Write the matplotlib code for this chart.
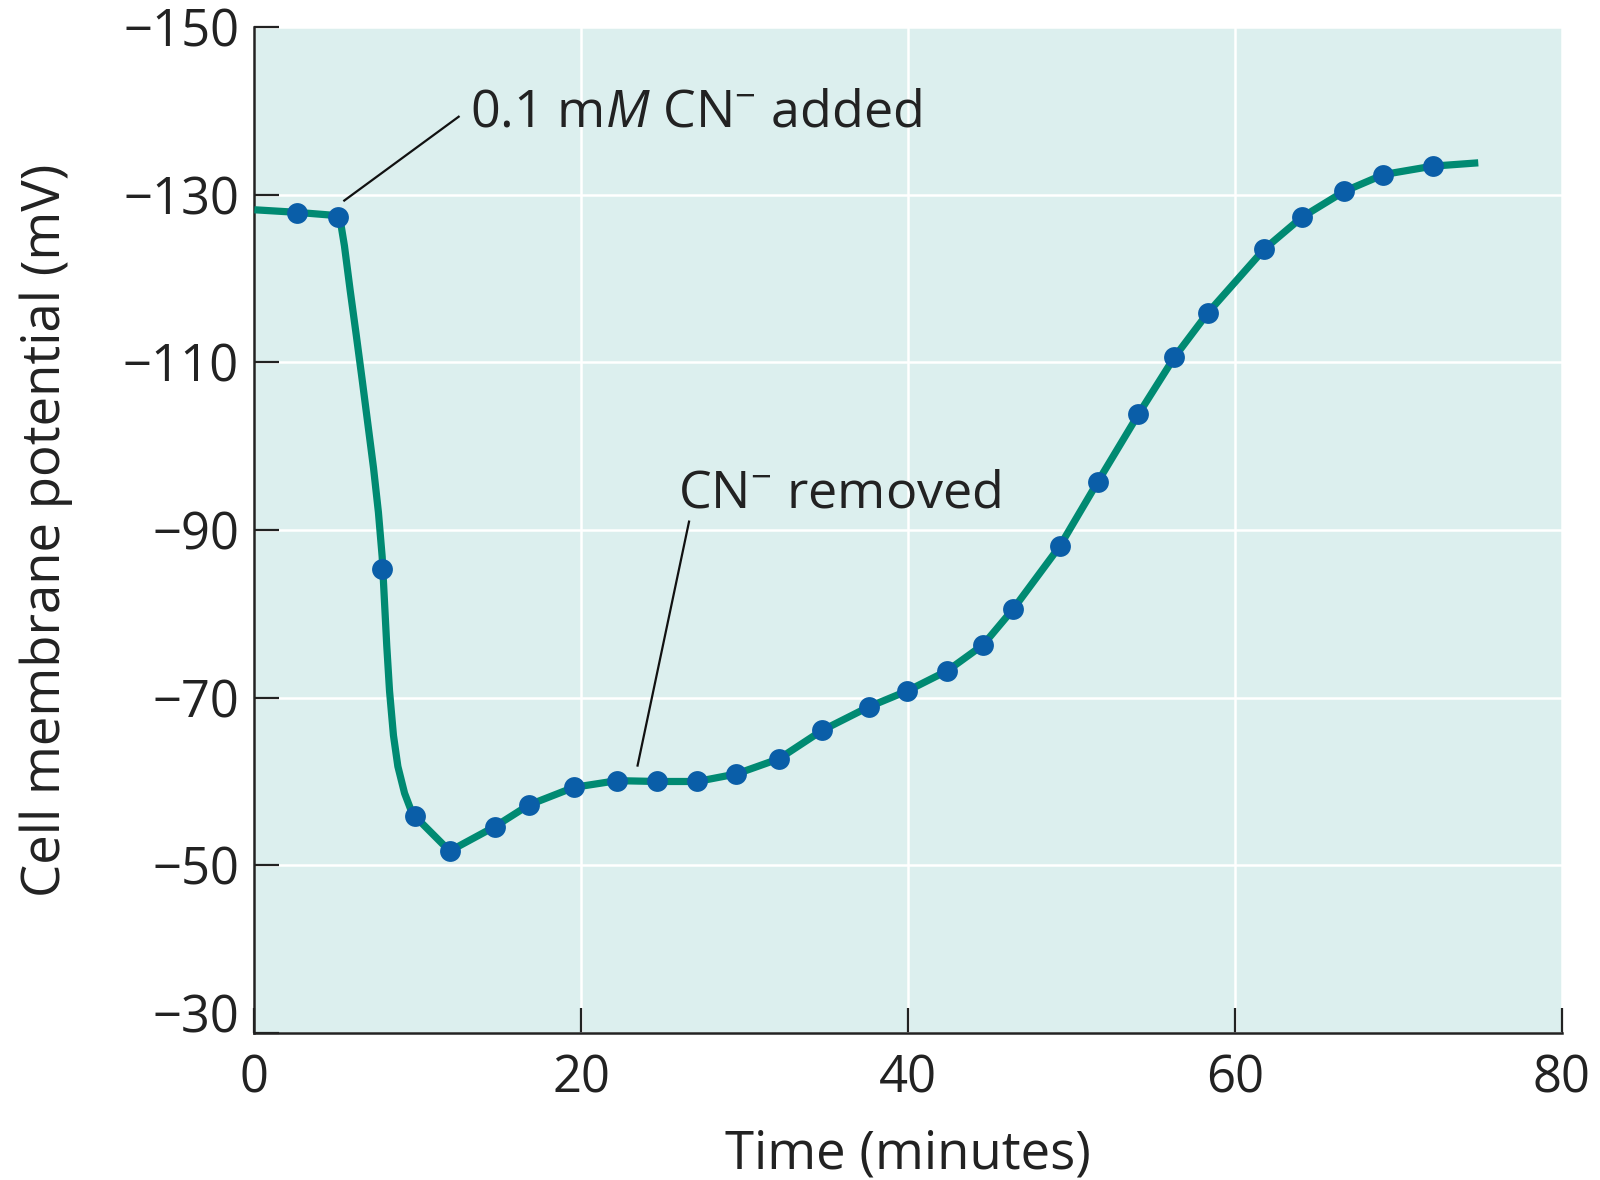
import matplotlib

matplotlib.use('Agg')
import matplotlib.pyplot as plt

# measured points (markers)
time_pts = [2.6, 5.1, 7.8, 9.8, 11.95, 14.7, 16.8, 19.55, 22.2, 24.65, 27.1, 29.5,
            32.1, 34.75, 37.6, 39.95, 42.4, 44.6, 46.45, 49.3, 51.6, 54.1, 56.3,
            58.35, 61.8, 64.1, 66.7, 69.1, 72.1]
potential_pts = [-127.8, -127.3, -85.3, -55.9, -51.7, -54.6, -57.2, -59.3, -60.1,
                 -60.0, -60.0, -60.9, -62.7, -66.1, -68.9, -70.8, -73.2, -76.3,
                 -80.6, -88.1, -95.7, -103.8, -110.6, -115.9, -123.5, -127.3,
                 -130.4, -132.4, -133.4]

# traced curve through the points
trace_time = [0, 2.55, 5.1, 5.3, 5.51, 5.86, 6.23, 6.59, 6.94, 7.29, 7.59, 7.82, 7.96,
              8.10, 8.27, 8.51, 8.78, 9.19, 9.6, 9.8, 11.95,
              14.7, 16.8, 19.55, 22.2, 24.65, 27.1, 29.5, 32.1, 34.75, 37.6, 39.95,
              42.4, 44.6, 46.45, 49.3, 51.6, 54.1, 56.3, 58.35, 61.8, 64.1, 66.7,
              69.1, 72.1, 74.9]
trace_potential = [-128.2, -127.9, -127.5, -126.4, -123.9, -118.6, -113.3, -108.0,
                   -102.7, -97.4, -92.1, -86.8, -81.5, -76.2, -70.8, -65.5, -61.8,
                   -58.6, -56.5, -55.9, -51.7, -54.6, -57.2, -59.3, -60.1, -60.0,
                   -60.0, -60.9, -62.7, -66.1, -68.9, -70.8, -73.2, -76.3, -80.6,
                   -88.1, -95.7, -103.8, -110.6, -115.9, -123.5, -127.3, -130.4,
                   -132.4, -133.4, -133.8]

x_ticks = [0, 20, 40, 60, 80]
y_ticks = [-150, -130, -110, -90, -70, -50, -30]

plt.rcParams['font.family'] = ['Open Sans', 'DejaVu Sans']
plt.rcParams['mathtext.fontset'] = 'custom'
plt.rcParams['mathtext.rm'] = 'Open Sans'
plt.rcParams['mathtext.it'] = 'Open Sans:italic'

fig = plt.figure(figsize=(16, 11.8), dpi=100)
ax = fig.add_axes([0.159, 0.1246, 0.817, 0.8525])
ax.set_facecolor('#dcefee')

ax.plot(trace_time, trace_potential, color='#008a72', lw=5.2, zorder=3,
        solid_capstyle='butt', solid_joinstyle='round')
ax.plot(time_pts, potential_pts, 'o', color='#0a5ea8', ms=15, mec='none', zorder=4)

ax.set_xlim(0, 80)
ax.set_ylim(-30, -150)
ax.set_xticks(x_ticks)
ax.set_yticks(y_ticks)
ax.grid(True, color='white', lw=1.8, zorder=1)
ax.set_axisbelow(True)

for s in ['top', 'right']:
    ax.spines[s].set_visible(False)
for s in ['left', 'bottom']:
    ax.spines[s].set_color('#222222')
    ax.spines[s].set_linewidth(1.8)

ax.tick_params(axis='both', direction='in', length=18, width=1.6, color='#222222',
               labelsize=36.5, labelcolor='#222222')
ax.tick_params(axis='x', pad=15)
ax.tick_params(axis='y', pad=11)

ax.set_xlabel('Time (minutes)', fontsize=38, color='#222222', labelpad=17)
ax.set_ylabel('Cell membrane potential (mV)', fontsize=38, color='#222222', labelpad=36)

ax.text(13.2, -139.8, r'0.1 m$\mathit{M}$ CN$^{-}$ added', fontsize=37.5,
        color='#222222', va='center', ha='left')
ax.plot([12.5, 5.5], [-139.3, -129.3], color='#111111', lw=1.6, zorder=5)

ax.text(25.9, -94.35, r'CN$^{-}$ removed', fontsize=37.5, color='#222222',
        va='center', ha='left')
ax.plot([26.6, 23.45], [-91.0, -61.9], color='#111111', lw=1.6, zorder=5)

# the -30 label sits on the bottom axis line in the original
fig.canvas.draw()
for t in ax.yaxis.get_major_ticks():
    if t.get_loc() == -30:
        t.label1.set_verticalalignment('baseline')

fig.savefig('out.png', dpi=100)
